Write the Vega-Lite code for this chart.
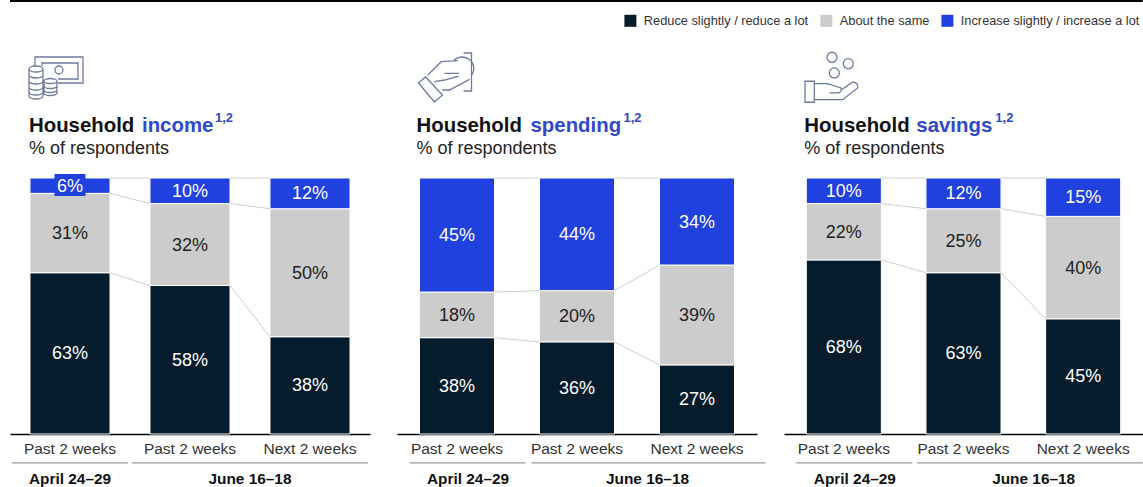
{
"$schema":"https://vega.github.io/schema/vega-lite/v6.json",
"padding":{"left":8,"top":0,"right":0,"bottom":0},
"background":"white",
"spacing":27,
"bounds":"flush",
"config":{"view":{"stroke":null},"font":"Liberation Sans","text":{"font":"Liberation Sans"},"axis":{"labelFont":"Liberation Sans"},"legend":{"labelFont":"Liberation Sans"}},
"resolve":{"scale":{"color":"shared"},"legend":{"color":"shared"}},
"datasets":{
"responses":[
{"measure":"income","slot":"Past 2 weeks (April)","answer":"Reduce slightly / reduce a lot","rank":1,"pct":63},
{"measure":"income","slot":"Past 2 weeks (April)","answer":"About the same","rank":2,"pct":31},
{"measure":"income","slot":"Past 2 weeks (April)","answer":"Increase slightly / increase a lot","rank":3,"pct":6},
{"measure":"income","slot":"Past 2 weeks (June)","answer":"Reduce slightly / reduce a lot","rank":1,"pct":58},
{"measure":"income","slot":"Past 2 weeks (June)","answer":"About the same","rank":2,"pct":32},
{"measure":"income","slot":"Past 2 weeks (June)","answer":"Increase slightly / increase a lot","rank":3,"pct":10},
{"measure":"income","slot":"Next 2 weeks (June)","answer":"Reduce slightly / reduce a lot","rank":1,"pct":38},
{"measure":"income","slot":"Next 2 weeks (June)","answer":"About the same","rank":2,"pct":50},
{"measure":"income","slot":"Next 2 weeks (June)","answer":"Increase slightly / increase a lot","rank":3,"pct":12},
{"measure":"spending","slot":"Past 2 weeks (April)","answer":"Reduce slightly / reduce a lot","rank":1,"pct":38},
{"measure":"spending","slot":"Past 2 weeks (April)","answer":"About the same","rank":2,"pct":18},
{"measure":"spending","slot":"Past 2 weeks (April)","answer":"Increase slightly / increase a lot","rank":3,"pct":45},
{"measure":"spending","slot":"Past 2 weeks (June)","answer":"Reduce slightly / reduce a lot","rank":1,"pct":36},
{"measure":"spending","slot":"Past 2 weeks (June)","answer":"About the same","rank":2,"pct":20},
{"measure":"spending","slot":"Past 2 weeks (June)","answer":"Increase slightly / increase a lot","rank":3,"pct":44},
{"measure":"spending","slot":"Next 2 weeks (June)","answer":"Reduce slightly / reduce a lot","rank":1,"pct":27},
{"measure":"spending","slot":"Next 2 weeks (June)","answer":"About the same","rank":2,"pct":39},
{"measure":"spending","slot":"Next 2 weeks (June)","answer":"Increase slightly / increase a lot","rank":3,"pct":34},
{"measure":"savings","slot":"Past 2 weeks (April)","answer":"Reduce slightly / reduce a lot","rank":1,"pct":68},
{"measure":"savings","slot":"Past 2 weeks (April)","answer":"About the same","rank":2,"pct":22},
{"measure":"savings","slot":"Past 2 weeks (April)","answer":"Increase slightly / increase a lot","rank":3,"pct":10},
{"measure":"savings","slot":"Past 2 weeks (June)","answer":"Reduce slightly / reduce a lot","rank":1,"pct":63},
{"measure":"savings","slot":"Past 2 weeks (June)","answer":"About the same","rank":2,"pct":25},
{"measure":"savings","slot":"Past 2 weeks (June)","answer":"Increase slightly / increase a lot","rank":3,"pct":12},
{"measure":"savings","slot":"Next 2 weeks (June)","answer":"Reduce slightly / reduce a lot","rank":1,"pct":45},
{"measure":"savings","slot":"Next 2 weeks (June)","answer":"About the same","rank":2,"pct":40},
{"measure":"savings","slot":"Next 2 weeks (June)","answer":"Increase slightly / increase a lot","rank":3,"pct":15}
],
"links":[
{"measure":"income","from":"Past 2 weeks (April)","to":"Past 2 weeks (June)","start":1,"end":1},
{"measure":"income","from":"Past 2 weeks (April)","to":"Past 2 weeks (June)","start":0.94,"end":0.90},
{"measure":"income","from":"Past 2 weeks (April)","to":"Past 2 weeks (June)","start":0.63,"end":0.58},
{"measure":"income","from":"Past 2 weeks (June)","to":"Next 2 weeks (June)","start":1,"end":1},
{"measure":"income","from":"Past 2 weeks (June)","to":"Next 2 weeks (June)","start":0.90,"end":0.88},
{"measure":"income","from":"Past 2 weeks (June)","to":"Next 2 weeks (June)","start":0.58,"end":0.38},
{"measure":"spending","from":"Past 2 weeks (April)","to":"Past 2 weeks (June)","start":1,"end":1},
{"measure":"spending","from":"Past 2 weeks (April)","to":"Past 2 weeks (June)","start":0.5545,"end":0.56},
{"measure":"spending","from":"Past 2 weeks (April)","to":"Past 2 weeks (June)","start":0.3762,"end":0.36},
{"measure":"spending","from":"Past 2 weeks (June)","to":"Next 2 weeks (June)","start":1,"end":1},
{"measure":"spending","from":"Past 2 weeks (June)","to":"Next 2 weeks (June)","start":0.56,"end":0.66},
{"measure":"spending","from":"Past 2 weeks (June)","to":"Next 2 weeks (June)","start":0.36,"end":0.27},
{"measure":"savings","from":"Past 2 weeks (April)","to":"Past 2 weeks (June)","start":1,"end":1},
{"measure":"savings","from":"Past 2 weeks (April)","to":"Past 2 weeks (June)","start":0.90,"end":0.88},
{"measure":"savings","from":"Past 2 weeks (April)","to":"Past 2 weeks (June)","start":0.68,"end":0.63},
{"measure":"savings","from":"Past 2 weeks (June)","to":"Next 2 weeks (June)","start":1,"end":1},
{"measure":"savings","from":"Past 2 weeks (June)","to":"Next 2 weeks (June)","start":0.88,"end":0.85},
{"measure":"savings","from":"Past 2 weeks (June)","to":"Next 2 weeks (June)","start":0.63,"end":0.45}
]
},
"hconcat":[
{"width":360,"height":434,
"layer":[
{"data":{"name":"responses"},"transform":[{"filter":"datum.measure==='income'"}],"mark":{"type":"bar","stroke":"#fff","strokeWidth":1},"encoding":{
"x":{"field":"slot","type":"nominal","scale":{"domain":["Past 2 weeks (April)","Past 2 weeks (June)","Next 2 weeks (June)"],"paddingInner":0.333,"paddingOuter":0.1665,"align":0.5},"axis":{"title":null,"ticks":false,"labelAngle":0,"labelFontSize":15.5,"labelColor":"#333","labelPadding":7,"domainColor":"#000","domainWidth":1.5,"labelExpr":"split(datum.label,' (')[0]"}},
"y":{"field":"pct","type":"quantitative","stack":"normalize","scale":{"domain":[0,1.6953],"nice":false},"axis":null},
"order":{"field":"rank"},
"color":{"field":"answer","type":"nominal","scale":{"domain":["Reduce slightly / reduce a lot","About the same","Increase slightly / increase a lot"],"range":["#051c2c","#cccccc","#2140e0"]},"legend":{"title":null,"orient":"none","legendX":614,"legendY":14,"direction":"horizontal","columns":3,"symbolType":"square","symbolSize":144,"symbolStrokeWidth":0,"symbolOpacity":1,"labelFontSize":12.8,"labelColor":"#333","labelOffset":7,"columnPadding":11,"labelLimit":300}}}},
{"data":{"values":[{"label":"top rule"}]},"mark":{"type":"rule","stroke":"#000","strokeWidth":2,"xOffset":-20,"x2Offset":48},"encoding":{"x":{"datum":"Past 2 weeks (April)","type":"nominal","bandPosition":0},"x2":{"datum":"Next 2 weeks (June)","bandPosition":1},"y":{"datum":1.691,"type":"quantitative","axis":null}}},
{"data":{"name":"links"},"transform":[{"filter":"datum.measure==='income'"}],"mark":{"type":"rule","stroke":"#cfcfcf","strokeWidth":1},"encoding":{"x":{"field":"from","type":"nominal","bandPosition":1},"x2":{"field":"to","bandPosition":0},"y":{"field":"start","type":"quantitative","axis":null},"y2":{"field":"end"}}},
{"data":{"values":[{"label":"6% callout"}]},"mark":{"type":"bar","size":31,"fill":"#2140e0"},"encoding":{"x":{"datum":"Past 2 weeks (April)","type":"nominal"},"y":{"datum":1.0156,"type":"quantitative","axis":null},"y2":{"datum":0.9297}}},
{"data":{"name":"responses"},"transform":[{"filter":"datum.measure==='income'"},{"stack":"pct","groupby":["slot"],"sort":[{"field":"rank"}],"offset":"normalize","as":["y0","y1"]},{"calculate":"(datum.y0+datum.y1)/2","as":"mid"},{"calculate":"datum.pct+'%'","as":"label"}],"mark":{"type":"text","fontSize":18,"baseline":"middle","dy":1},"encoding":{"x":{"field":"slot","type":"nominal"},"y":{"field":"mid","type":"quantitative","axis":null},"text":{"field":"label"},"color":{"condition":{"test":"datum.rank===2","value":"#222"},"value":"#fff"}}},
{"data":{"values":[{"label":"Household"}]},"mark":{"type":"text","align":"left","baseline":"middle","fontSize":20.4,"fontWeight":"bold","color":"#111","xOffset":-1},"encoding":{"x":{"datum":"Past 2 weeks (April)","type":"nominal","bandPosition":0},"y":{"datum":1.203,"type":"quantitative","axis":null},"text":{"field":"label"}}},
{"data":{"values":[{"label":"income"}]},"mark":{"type":"text","align":"left","baseline":"middle","fontSize":20.4,"fontWeight":"bold","color":"#2f49cc","xOffset":112},"encoding":{"x":{"datum":"Past 2 weeks (April)","type":"nominal","bandPosition":0},"y":{"datum":1.203,"type":"quantitative","axis":null},"text":{"field":"label"}}},
{"data":{"values":[{"label":"1,2"}]},"mark":{"type":"text","align":"left","baseline":"middle","fontSize":13,"fontWeight":"bold","color":"#2f49cc","xOffset":185},"encoding":{"x":{"datum":"Past 2 weeks (April)","type":"nominal","bandPosition":0},"y":{"datum":1.2344,"type":"quantitative","axis":null},"text":{"field":"label"}}},
{"data":{"values":[{"label":"% of respondents"}]},"mark":{"type":"text","align":"left","baseline":"middle","fontSize":18,"color":"#222","xOffset":-1},"encoding":{"x":{"datum":"Past 2 weeks (April)","type":"nominal","bandPosition":0},"y":{"datum":1.113,"type":"quantitative","axis":null},"text":{"field":"label"}}},
{"data":{"values":[{"label":"cash and coins"}]},"mark":{"type":"point","size":4,"filled":false,"opacity":1,"stroke":"#6d7a9c","strokeWidth":1.3,"xOffset":26,"shape":"M-21 -12V-21H27V5H2M-14 -12V-15H22V1H2M7 -8A4 4 0 1 1 -1 -8A4 4 0 1 1 7 -8M-27 -9A7 3 0 1 1 -13 -9A7 3 0 1 1 -27 -9M-27 -9V18A7 3 0 0 0 -13 18V-9M-27 -3A7 3 0 0 0 -13 -3M-27 3A7 3 0 0 0 -13 3M-27 9A7 3 0 0 0 -13 9M-27 14A7 3 0 0 0 -13 14M-12 3A6.5 2.5 0 1 1 1 3A6.5 2.5 0 1 1 -12 3M-12 3V15A6.5 2.5 0 0 0 1 15V3M-12 8A6.5 2.5 0 0 0 1 8M-12 12A6.5 2.5 0 0 0 1 12"},"encoding":{"x":{"datum":"Past 2 weeks (April)","type":"nominal","bandPosition":0},"y":{"datum":1.3906,"type":"quantitative","axis":null}}},
{"data":{"values":[{"label":"April rule"}]},"mark":{"type":"rule","stroke":"#999","strokeWidth":1.2,"xOffset":-18,"x2Offset":18},"encoding":{"x":{"datum":"Past 2 weeks (April)","type":"nominal","bandPosition":0},"x2":{"datum":"Past 2 weeks (April)","bandPosition":1},"y":{"datum":-0.113,"type":"quantitative","axis":null}}},
{"data":{"values":[{"label":"June rule"}]},"mark":{"type":"rule","stroke":"#999","strokeWidth":1.2,"xOffset":-18,"x2Offset":18},"encoding":{"x":{"datum":"Past 2 weeks (June)","type":"nominal","bandPosition":0},"x2":{"datum":"Next 2 weeks (June)","bandPosition":1},"y":{"datum":-0.113,"type":"quantitative","axis":null}}},
{"data":{"values":[{"label":"April 24–29"}]},"mark":{"type":"text","baseline":"middle","fontSize":15.4,"fontWeight":"bold","color":"#111"},"encoding":{"x":{"datum":"Past 2 weeks (April)","type":"nominal"},"y":{"datum":-0.176,"type":"quantitative","axis":null},"text":{"field":"label"}}},
{"data":{"values":[{"label":"June 16–18"}]},"mark":{"type":"text","baseline":"middle","fontSize":15.4,"fontWeight":"bold","color":"#111","xOffset":-20},"encoding":{"x":{"datum":"Next 2 weeks (June)","type":"nominal","bandPosition":0},"y":{"datum":-0.176,"type":"quantitative","axis":null},"text":{"field":"label"}}}
]},
{"width":360,"height":434,
"layer":[
{"data":{"name":"responses"},"transform":[{"filter":"datum.measure==='spending'"}],"mark":{"type":"bar","stroke":"#fff","strokeWidth":1},"encoding":{
"x":{"field":"slot","type":"nominal","scale":{"domain":["Past 2 weeks (April)","Past 2 weeks (June)","Next 2 weeks (June)"],"paddingInner":0.375,"paddingOuter":0.1875,"align":0.5},"axis":{"title":null,"ticks":false,"labelAngle":0,"labelFontSize":15.5,"labelColor":"#333","labelPadding":7,"domainColor":"#000","domainWidth":1.5,"labelExpr":"split(datum.label,' (')[0]"}},
"y":{"field":"pct","type":"quantitative","stack":"normalize","scale":{"domain":[0,1.6953],"nice":false},"axis":null},
"order":{"field":"rank"},
"color":{"field":"answer","type":"nominal","scale":{"domain":["Reduce slightly / reduce a lot","About the same","Increase slightly / increase a lot"],"range":["#051c2c","#cccccc","#2140e0"]},"legend":{"title":null,"orient":"none","legendX":614,"legendY":14,"direction":"horizontal","columns":3,"symbolType":"square","symbolSize":144,"symbolStrokeWidth":0,"symbolOpacity":1,"labelFontSize":12.8,"labelColor":"#333","labelOffset":7,"columnPadding":11,"labelLimit":300}}}},
{"data":{"values":[{"label":"top rule"}]},"mark":{"type":"rule","stroke":"#000","strokeWidth":2,"xOffset":-23,"x2Offset":50},"encoding":{"x":{"datum":"Past 2 weeks (April)","type":"nominal","bandPosition":0},"x2":{"datum":"Next 2 weeks (June)","bandPosition":1},"y":{"datum":1.691,"type":"quantitative","axis":null}}},
{"data":{"name":"links"},"transform":[{"filter":"datum.measure==='spending'"}],"mark":{"type":"rule","stroke":"#cfcfcf","strokeWidth":1},"encoding":{"x":{"field":"from","type":"nominal","bandPosition":1},"x2":{"field":"to","bandPosition":0},"y":{"field":"start","type":"quantitative","axis":null},"y2":{"field":"end"}}},
{"data":{"name":"responses"},"transform":[{"filter":"datum.measure==='spending'"},{"stack":"pct","groupby":["slot"],"sort":[{"field":"rank"}],"offset":"normalize","as":["y0","y1"]},{"calculate":"(datum.y0+datum.y1)/2","as":"mid"},{"calculate":"datum.pct+'%'","as":"label"}],"mark":{"type":"text","fontSize":18,"baseline":"middle","dy":1},"encoding":{"x":{"field":"slot","type":"nominal"},"y":{"field":"mid","type":"quantitative","axis":null},"text":{"field":"label"},"color":{"condition":{"test":"datum.rank===2","value":"#222"},"value":"#fff"}}},
{"data":{"values":[{"label":"Household"}]},"mark":{"type":"text","align":"left","baseline":"middle","fontSize":20.4,"fontWeight":"bold","color":"#111","xOffset":-3},"encoding":{"x":{"datum":"Past 2 weeks (April)","type":"nominal","bandPosition":0},"y":{"datum":1.203,"type":"quantitative","axis":null},"text":{"field":"label"}}},
{"data":{"values":[{"label":"spending"}]},"mark":{"type":"text","align":"left","baseline":"middle","fontSize":20.4,"fontWeight":"bold","color":"#2f49cc","xOffset":111},"encoding":{"x":{"datum":"Past 2 weeks (April)","type":"nominal","bandPosition":0},"y":{"datum":1.203,"type":"quantitative","axis":null},"text":{"field":"label"}}},
{"data":{"values":[{"label":"1,2"}]},"mark":{"type":"text","align":"left","baseline":"middle","fontSize":13,"fontWeight":"bold","color":"#2f49cc","xOffset":204},"encoding":{"x":{"datum":"Past 2 weeks (April)","type":"nominal","bandPosition":0},"y":{"datum":1.2344,"type":"quantitative","axis":null},"text":{"field":"label"}}},
{"data":{"values":[{"label":"% of respondents"}]},"mark":{"type":"text","align":"left","baseline":"middle","fontSize":18,"color":"#222","xOffset":-3},"encoding":{"x":{"datum":"Past 2 weeks (April)","type":"nominal","bandPosition":0},"y":{"datum":1.113,"type":"quantitative","axis":null},"text":{"field":"label"}}},
{"data":{"values":[{"label":"hand passing a coin"}]},"mark":{"type":"point","size":4,"filled":false,"opacity":1,"stroke":"#6d7a9c","strokeWidth":1.3,"xOffset":25,"shape":"M19 -19H27V19H19M-26 11L-19 5L-2 23L-10 30ZM-16.7 3L-3.3 -10.3L13.3 -11.3M9 -11A9 9 0 0 1 26.5 4M-2.3 18H5L25 7.3M0 1.3H14.3M0 8L14.3 4M-10 9.7L0 8"},"encoding":{"x":{"datum":"Past 2 weeks (April)","type":"nominal","bandPosition":0},"y":{"datum":1.414,"type":"quantitative","axis":null}}},
{"data":{"values":[{"label":"April rule"}]},"mark":{"type":"rule","stroke":"#999","strokeWidth":1.2,"xOffset":-10,"x2Offset":31},"encoding":{"x":{"datum":"Past 2 weeks (April)","type":"nominal","bandPosition":0},"x2":{"datum":"Past 2 weeks (April)","bandPosition":1},"y":{"datum":-0.113,"type":"quantitative","axis":null}}},
{"data":{"values":[{"label":"June rule"}]},"mark":{"type":"rule","stroke":"#999","strokeWidth":1.2,"xOffset":-8,"x2Offset":31},"encoding":{"x":{"datum":"Past 2 weeks (June)","type":"nominal","bandPosition":0},"x2":{"datum":"Next 2 weeks (June)","bandPosition":1},"y":{"datum":-0.113,"type":"quantitative","axis":null}}},
{"data":{"values":[{"label":"April 24–29"}]},"mark":{"type":"text","baseline":"middle","fontSize":15.4,"fontWeight":"bold","color":"#111","xOffset":11},"encoding":{"x":{"datum":"Past 2 weeks (April)","type":"nominal"},"y":{"datum":-0.176,"type":"quantitative","axis":null},"text":{"field":"label"}}},
{"data":{"values":[{"label":"June 16–18"}]},"mark":{"type":"text","baseline":"middle","fontSize":15.4,"fontWeight":"bold","color":"#111","xOffset":-12},"encoding":{"x":{"datum":"Next 2 weeks (June)","type":"nominal","bandPosition":0},"y":{"datum":-0.176,"type":"quantitative","axis":null},"text":{"field":"label"}}}
]},
{"width":359,"height":434,
"layer":[
{"data":{"name":"responses"},"transform":[{"filter":"datum.measure==='savings'"}],"mark":{"type":"bar","stroke":"#fff","strokeWidth":1},"encoding":{
"x":{"field":"slot","type":"nominal","scale":{"domain":["Past 2 weeks (April)","Past 2 weeks (June)","Next 2 weeks (June)"],"paddingInner":0.373,"paddingOuter":0.1865,"align":0.5},"axis":{"title":null,"ticks":false,"labelAngle":0,"labelFontSize":15.5,"labelColor":"#333","labelPadding":7,"domainColor":"#000","domainWidth":1.5,"labelExpr":"split(datum.label,' (')[0]"}},
"y":{"field":"pct","type":"quantitative","stack":"normalize","scale":{"domain":[0,1.6953],"nice":false},"axis":null},
"order":{"field":"rank"},
"color":{"field":"answer","type":"nominal","scale":{"domain":["Reduce slightly / reduce a lot","About the same","Increase slightly / increase a lot"],"range":["#051c2c","#cccccc","#2140e0"]},"legend":{"title":null,"orient":"none","legendX":614,"legendY":14,"direction":"horizontal","columns":3,"symbolType":"square","symbolSize":144,"symbolStrokeWidth":0,"symbolOpacity":1,"labelFontSize":12.8,"labelColor":"#333","labelOffset":7,"columnPadding":11,"labelLimit":300}}}},
{"data":{"values":[{"label":"top rule"}]},"mark":{"type":"rule","stroke":"#000","strokeWidth":2,"xOffset":-23,"x2Offset":22},"encoding":{"x":{"datum":"Past 2 weeks (April)","type":"nominal","bandPosition":0},"x2":{"datum":"Next 2 weeks (June)","bandPosition":1},"y":{"datum":1.691,"type":"quantitative","axis":null}}},
{"data":{"name":"links"},"transform":[{"filter":"datum.measure==='savings'"}],"mark":{"type":"rule","stroke":"#cfcfcf","strokeWidth":1},"encoding":{"x":{"field":"from","type":"nominal","bandPosition":1},"x2":{"field":"to","bandPosition":0},"y":{"field":"start","type":"quantitative","axis":null},"y2":{"field":"end"}}},
{"data":{"name":"responses"},"transform":[{"filter":"datum.measure==='savings'"},{"stack":"pct","groupby":["slot"],"sort":[{"field":"rank"}],"offset":"normalize","as":["y0","y1"]},{"calculate":"(datum.y0+datum.y1)/2","as":"mid"},{"calculate":"datum.pct+'%'","as":"label"}],"mark":{"type":"text","fontSize":18,"baseline":"middle","dy":1},"encoding":{"x":{"field":"slot","type":"nominal"},"y":{"field":"mid","type":"quantitative","axis":null},"text":{"field":"label"},"color":{"condition":{"test":"datum.rank===2","value":"#222"},"value":"#fff"}}},
{"data":{"values":[{"label":"Household"}]},"mark":{"type":"text","align":"left","baseline":"middle","fontSize":20.4,"fontWeight":"bold","color":"#111","xOffset":-2},"encoding":{"x":{"datum":"Past 2 weeks (April)","type":"nominal","bandPosition":0},"y":{"datum":1.203,"type":"quantitative","axis":null},"text":{"field":"label"}}},
{"data":{"values":[{"label":"savings"}]},"mark":{"type":"text","align":"left","baseline":"middle","fontSize":20.4,"fontWeight":"bold","color":"#2f49cc","xOffset":110},"encoding":{"x":{"datum":"Past 2 weeks (April)","type":"nominal","bandPosition":0},"y":{"datum":1.203,"type":"quantitative","axis":null},"text":{"field":"label"}}},
{"data":{"values":[{"label":"1,2"}]},"mark":{"type":"text","align":"left","baseline":"middle","fontSize":13,"fontWeight":"bold","color":"#2f49cc","xOffset":189},"encoding":{"x":{"datum":"Past 2 weeks (April)","type":"nominal","bandPosition":0},"y":{"datum":1.2344,"type":"quantitative","axis":null},"text":{"field":"label"}}},
{"data":{"values":[{"label":"% of respondents"}]},"mark":{"type":"text","align":"left","baseline":"middle","fontSize":18,"color":"#222","xOffset":-2},"encoding":{"x":{"datum":"Past 2 weeks (April)","type":"nominal","bandPosition":0},"y":{"datum":1.113,"type":"quantitative","axis":null},"text":{"field":"label"}}},
{"data":{"values":[{"label":"open hand with coins"}]},"mark":{"type":"point","size":4,"filled":false,"opacity":1,"stroke":"#6d7a9c","strokeWidth":1.3,"xOffset":23,"shape":"M7.7 -22.7A5 5 0 1 1 -2.3 -22.7A5 5 0 1 1 7.7 -22.7M24 -16.3A5 5 0 1 1 14 -16.3A5 5 0 1 1 24 -16.3M10 -7A5 5 0 1 1 0 -7A5 5 0 1 1 10 -7M-24.3 1.3H-15V22.3H-24.3ZM-15 3.7H-1.7L11.7 8Q13 13 8 13H0M11.7 10L23.3 2.3Q29 2 28.3 8L13.3 19.7H-15"},"encoding":{"x":{"datum":"Past 2 weeks (April)","type":"nominal","bandPosition":0},"y":{"datum":1.383,"type":"quantitative","axis":null}}},
{"data":{"values":[{"label":"April rule"}]},"mark":{"type":"rule","stroke":"#999","strokeWidth":1.2,"xOffset":-10,"x2Offset":31},"encoding":{"x":{"datum":"Past 2 weeks (April)","type":"nominal","bandPosition":0},"x2":{"datum":"Past 2 weeks (April)","bandPosition":1},"y":{"datum":-0.113,"type":"quantitative","axis":null}}},
{"data":{"values":[{"label":"June rule"}]},"mark":{"type":"rule","stroke":"#999","strokeWidth":1.2,"xOffset":-9,"x2Offset":22},"encoding":{"x":{"datum":"Past 2 weeks (June)","type":"nominal","bandPosition":0},"x2":{"datum":"Next 2 weeks (June)","bandPosition":1},"y":{"datum":-0.113,"type":"quantitative","axis":null}}},
{"data":{"values":[{"label":"April 24–29"}]},"mark":{"type":"text","baseline":"middle","fontSize":15.4,"fontWeight":"bold","color":"#111","xOffset":11},"encoding":{"x":{"datum":"Past 2 weeks (April)","type":"nominal"},"y":{"datum":-0.176,"type":"quantitative","axis":null},"text":{"field":"label"}}},
{"data":{"values":[{"label":"June 16–18"}]},"mark":{"type":"text","baseline":"middle","fontSize":15.4,"fontWeight":"bold","color":"#111","xOffset":-12},"encoding":{"x":{"datum":"Next 2 weeks (June)","type":"nominal","bandPosition":0},"y":{"datum":-0.176,"type":"quantitative","axis":null},"text":{"field":"label"}}}
]}
]
}
